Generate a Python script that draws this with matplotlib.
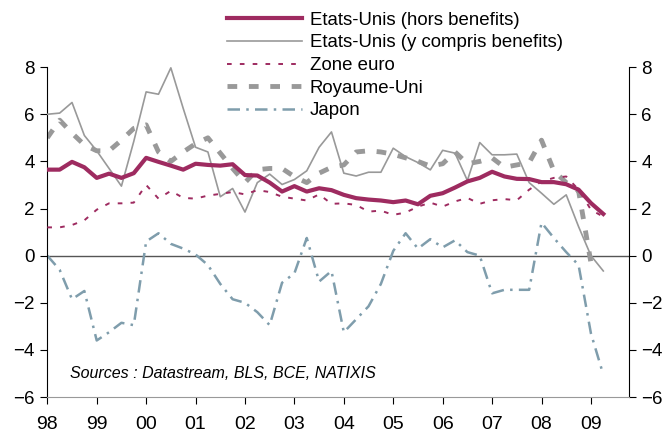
import matplotlib
matplotlib.use("Agg")
import matplotlib.pyplot as plt
import numpy as np

plt.rcParams['font.family'] = ['Liberation Sans', 'DejaVu Sans']

# quarterly data, 1998Q1 .. 2009Q2
us_hors = [3.65, 3.65, 3.98, 3.75, 3.3, 3.48, 3.3, 3.5, 4.15, 3.98, 3.82, 3.65,
           3.9, 3.85, 3.82, 3.88, 3.42, 3.4, 3.1, 2.72, 2.95, 2.72, 2.86, 2.78,
           2.58, 2.44, 2.38, 2.34, 2.27, 2.34, 2.18, 2.54, 2.65, 2.89, 3.15, 3.3,
           3.56, 3.36, 3.26, 3.25, 3.12, 3.12, 3.03, 2.8, 2.23, 1.77]
us_incl = [6.0, 6.05, 6.5, 5.1, 4.45, 3.7, 2.95, 4.85, 6.95, 6.85, 7.97, 6.25,
           4.6, 4.4, 2.5, 2.85, 1.85, 3.1, 3.46, 3.02, 3.23, 3.6, 4.6, 5.25,
           3.5, 3.38, 3.54, 3.54, 4.56, 4.2, 3.95, 3.64, 4.47, 4.35, 3.19, 4.8,
           4.28, 4.28, 4.31, 3.1, 2.65, 2.18, 2.58, 1.23, 0.0, -0.65]
zone_euro = [1.2, 1.2, 1.3, 1.5, 1.95, 2.22, 2.22, 2.25, 3.0, 2.42, 2.75, 2.45,
             2.42, 2.55, 2.62, 2.7, 2.6, 2.78, 2.7, 2.5, 2.42, 2.34, 2.6, 2.2,
             2.22, 2.15, 1.87, 1.91, 1.73, 1.83, 2.08, 2.25, 2.08, 2.3, 2.45, 2.2,
             2.35, 2.4, 2.35, 2.8, 3.15, 3.3, 3.36, 2.8, 1.95, 1.65]
royaume_uni = [5.0, 5.75, 5.2, 4.7, 4.45, 4.45, 4.9, 5.4, 5.55, 4.4, 4.0, 4.4,
               4.75, 5.0, 4.35, 3.7, 3.1, 3.65, 3.7, 3.7, 3.35, 3.1, 3.5, 3.75,
               3.85, 4.4, 4.45, 4.4, 4.3, 4.15, 4.0, 3.8, 3.9, 4.4, 3.9, 4.0,
               4.15, 3.75, 3.85, 3.95, 4.9, 3.6, 3.1, 2.75, -0.3]
japon = [0.0, -0.6, -1.85, -1.5, -3.6, -3.25, -2.85, -2.95, 0.6, 0.95, 0.5, 0.3,
         0.05, -0.4, -1.2, -1.85, -2.0, -2.4, -2.95, -1.15, -0.75, 0.75, -1.1, -0.65,
         -3.25, -2.7, -2.15, -1.2, 0.2, 0.95, 0.3, 0.7, 0.35, 0.65, 0.15, 0.0,
         -1.6, -1.45, -1.45, -1.45, 1.4, 0.75, 0.15, -0.4, -3.3, -5.05]
years = list(range(1998, 2010))
year_labels = ['98', '99', '00', '01', '02', '03', '04', '05', '06', '07', '08', '09']

t = 1998 + 0.25 * np.arange(len(us_hors))
t_uk = 1998 + 0.25 * np.arange(len(royaume_uni))

magenta = '#9e2b60'
grey = '#999999'
blue = '#7f9dac'

fig = plt.figure(figsize=(6.68, 4.36), dpi=100)
ax = fig.add_axes([0.0708, 0.0894, 0.8708, 0.7566])

ax.axhline(0, color='#555555', lw=1.0, zorder=1)
l1, = ax.plot(t, us_hors, color=magenta, lw=3.0, label='Etats-Unis (hors benefits)', zorder=5)
l2, = ax.plot(t, us_incl, color=grey, lw=1.2, label='Etats-Unis (y compris benefits)', zorder=3)
l3, = ax.plot(t, zone_euro, color=magenta, lw=1.4, linestyle=(0, (2.4, 4.2)), label='Zone euro', zorder=4)
l4, = ax.plot(t_uk, royaume_uni, color=grey, lw=3.5, linestyle=(0, (2.0, 2.4)),
              dash_capstyle='butt', label='Royaume-Uni', zorder=2)
l5, = ax.plot(t, japon, color=blue, lw=1.8, linestyle=(0, (5, 2.5, 1, 2.5)), label='Japon', zorder=2)

ax.set_xlim(1998, 2009.77)
ax.set_ylim(-6, 8)
ax.set_yticks(range(-6, 9, 2))
ax.set_xticks(years)
ax.set_xticklabels(year_labels)

ax.spines['top'].set_visible(False)
ax.spines['bottom'].set_color(grey)
ax.tick_params(axis='y', direction='out', length=5, labelsize=13.5, right=True, labelright=True, pad=4)
ax.tick_params(axis='x', direction='out', length=5, labelsize=14, pad=9)

ax.text(1998.45, -5.2, 'Sources : Datastream, BLS, BCE, NATIXIS', fontsize=11.5, style='italic')

fig.legend(handles=[l1, l2, l3, l4, l5], loc='upper left', bbox_to_anchor=(0.329, 0.99),
           frameon=False, fontsize=13.4, handlelength=4.0, handletextpad=0.43,
           labelspacing=0.3, borderaxespad=0.0)

fig.savefig('out.png', dpi=100)
